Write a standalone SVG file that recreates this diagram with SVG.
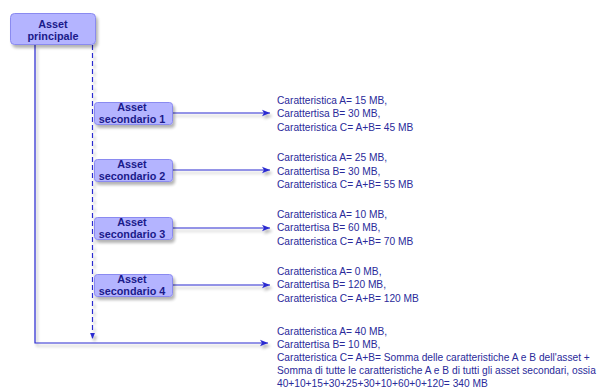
<svg xmlns="http://www.w3.org/2000/svg" width="599" height="388" viewBox="0 0 599 388">
<style>
.node rect{fill:#b4b4ff;stroke:#8a8af0;stroke-width:1}
.node text{font-family:"Liberation Sans",Arial,sans-serif;font-weight:bold;font-size:10.8px;fill:#1a1a8a;text-anchor:middle}
.conn{stroke:#2a2ad0;stroke-width:1.2;fill:none}
.dash{stroke-dasharray:5,3}
.info text{font-family:"Liberation Sans",Arial,sans-serif;font-size:10.2px;fill:#2a2a9a}
</style>
<defs>
<filter id="sh" x="-20%" y="-20%" width="150%" height="180%">
<feGaussianBlur in="SourceAlpha" stdDeviation="1.5"/>
<feOffset dx="2" dy="3" result="b"/>
<feComponentTransfer><feFuncA type="linear" slope="0.3"/></feComponentTransfer>
<feMerge><feMergeNode/><feMergeNode in="SourceGraphic"/></feMerge>
</filter>
<marker id="ah" viewBox="0 0 10 10" refX="10" refY="5" markerWidth="8" markerHeight="8" markerUnits="userSpaceOnUse" orient="auto">
<path d="M0,1 L10,5 L0,9 L2.5,5 Z" fill="#2a2ad0"/>
</marker>
<marker id="ahd" viewBox="0 0 10 10" refX="10" refY="5" markerWidth="6" markerHeight="6" markerUnits="userSpaceOnUse" orient="auto">
<path d="M0,1 L10,5 L0,9 Z" fill="#2a2ad0"/>
</marker>
</defs>
<g id="connectors" filter="url(#sh)">
<path class="conn" d="M35,45 V343 H268" marker-end="url(#ah)"/>
<path class="conn dash" d="M92.5,45 V339" marker-end="url(#ahd)"/>
<path class="conn" d="M173,113 H270" marker-end="url(#ah)"/>
<path class="conn" d="M173,170 H270" marker-end="url(#ah)"/>
<path class="conn" d="M173,228 H270" marker-end="url(#ah)"/>
<path class="conn" d="M173,285 H270" marker-end="url(#ah)"/>
</g>
<g id="asset-principale" class="node">
<rect x="10.5" y="13.5" width="85" height="31" rx="4" filter="url(#sh)"/>
<text x="53" y="27.5">Asset</text>
<text x="53" y="40">principale</text>
</g>
<g id="asset-secondario-1" class="node">
<rect x="94.5" y="102.5" width="78" height="22" rx="3" filter="url(#sh)"/>
<text x="132" y="111">Asset</text>
<text x="132" y="123">secondario 1</text>
</g>
<g id="asset-secondario-2" class="node">
<rect x="94.5" y="159.5" width="78" height="22" rx="3" filter="url(#sh)"/>
<text x="132" y="168">Asset</text>
<text x="132" y="180">secondario 2</text>
</g>
<g id="asset-secondario-3" class="node">
<rect x="94.5" y="217.5" width="78" height="22" rx="3" filter="url(#sh)"/>
<text x="132" y="226">Asset</text>
<text x="132" y="238">secondario 3</text>
</g>
<g id="asset-secondario-4" class="node">
<rect x="94.5" y="274.5" width="78" height="22" rx="3" filter="url(#sh)"/>
<text x="132" y="283">Asset</text>
<text x="132" y="295">secondario 4</text>
</g>
<g id="info-1" class="info">
<text x="277" y="103.5">Caratteristica A= 15 MB,</text>
<text x="277" y="117">Carattertisa B= 30 MB,</text>
<text x="277" y="130.5">Caratteristica C= A+B= 45 MB</text>
</g>
<g id="info-2" class="info">
<text x="277" y="161">Caratteristica A= 25 MB,</text>
<text x="277" y="174.5">Carattertisa B= 30 MB,</text>
<text x="277" y="188">Caratteristica C= A+B= 55 MB</text>
</g>
<g id="info-3" class="info">
<text x="277" y="217.5">Caratteristica A= 10 MB,</text>
<text x="277" y="231">Carattertisa B= 60 MB,</text>
<text x="277" y="244.5">Caratteristica C= A+B= 70 MB</text>
</g>
<g id="info-4" class="info">
<text x="277" y="274.5">Caratteristica A= 0 MB,</text>
<text x="277" y="288">Carattertisa B= 120 MB,</text>
<text x="277" y="301.5">Caratteristica C= A+B= 120 MB</text>
</g>
<g id="info-5" class="info">
<text x="277" y="334.5">Caratteristica A= 40 MB,</text>
<text x="277" y="347.5">Carattertisa B= 10 MB,</text>
<text x="277" y="360.5">Caratteristica C= A+B= Somma delle caratteristiche A e B dell'asset +</text>
<text x="277" y="373.5">Somma di tutte le caratteristiche A e B di tutti gli asset secondari, ossia</text>
<text x="277" y="386.5">40+10+15+30+25+30+10+60+0+120= 340 MB</text>
</g>
</svg>
